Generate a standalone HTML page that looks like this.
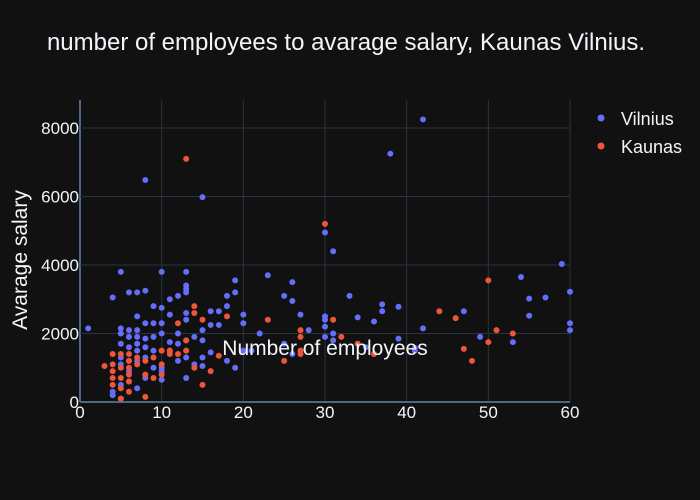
<!DOCTYPE html>
<html><head><meta charset="utf-8"><style>
body{margin:0;background:#111111;}
svg{display:block;font-family:"Liberation Sans",sans-serif;}
</style></head><body>
<svg id="chart" width="700" height="500">
<rect width="700" height="500" fill="#111111"/>
<text x="346" y="50" fill="#f2f5fa" font-size="24" text-anchor="middle">number of employees to avarage salary, Kaunas Vilnius.</text>
<g id="grid"></g>
<g id="points"></g>
<g id="axes"></g>
<text x="27" y="260" fill="#f2f5fa" font-size="21" text-anchor="middle" transform="rotate(-90 27 260)">Avarage salary</text>
<text x="325" y="355" fill="#f2f5fa" font-size="21" text-anchor="middle">Number of employees</text>
<g>
<g><circle cx="601" cy="118" r="3.5" fill="#636efa"/><text x="621" y="125" fill="#f2f5fa" font-size="18">Vilnius</text></g>
<g><circle cx="601" cy="146" r="3.5" fill="#ef553b"/><text x="621" y="153" fill="#f2f5fa" font-size="18">Kaunas</text></g>
</g>
</svg>
<script>
const xTicks=[0,10,20,30,40,50,60];
const yTicks=[0,2000,4000,6000,8000];
const vilnius=[[42,8250],[38,7250],[8,6480],[15,5980],[30,4950],[31,4400],[59,4030],[54,3650],[60,3220],[57,3050],[55,3020],[55,2520],[60,2300],[60,2100],[49,1900],[53,1750],[47,2650],[42,2150],[41,1580],[39,1850],[39,2780],[37,2650],[37,2850],[36,2350],[34,2470],[33,3100],[31,2000],[30,2500],[30,2400],[30,2200],[30,1900],[28,2100],[27,2550],[26,2950],[26,3500],[25,3100],[26,1400],[23,3700],[22,2000],[20,2550],[20,2300],[21,1500],[19,3550],[19,3200],[18,3100],[18,2800],[17,2650],[16,2650],[17,2250],[16,2250],[15,2100],[15,1800],[14,1900],[13,1800],[13,3800],[13,3400],[13,3300],[13,3200],[13,2600],[13,2400],[12,3100],[11,3000],[11,2550],[10,3800],[10,2750],[10,2300],[9,2800],[9,2300],[8,3250],[8,2300],[7,3200],[7,2500],[6,3200],[5,3800],[4,3050],[1,2150],[5,2150],[5,2000],[6,2100],[7,2100],[7,1900],[8,1850],[9,1900],[10,2000],[11,1750],[12,1700],[13,1300],[12,1200],[14,1100],[15,1050],[16,1450],[18,1200],[19,1000],[20,1500],[10,1000],[10,900],[9,1000],[8,1300],[8,700],[10,650],[7,400],[6,600],[5,1100],[5,500],[4,300],[4,200],[5,100],[6,1600],[6,1900],[7,1700],[7,1500],[8,1600],[9,1500],[7,1200],[6,900],[5,1300],[5,1700],[6,1200],[12,2000],[11,1500],[15,1300],[13,700],[41,1500],[25,1700],[31,1800],[35,1600]];
const kaunas=[[13,7100],[30,5200],[50,3550],[44,2650],[46,2450],[51,2100],[53,2000],[50,1750],[47,1550],[48,1200],[31,2400],[27,2100],[27,1900],[27,1500],[27,1400],[23,2400],[18,2500],[17,1350],[16,900],[15,2400],[15,500],[14,2800],[14,2600],[13,1800],[12,2300],[12,1400],[11,1500],[10,1500],[10,1100],[9,1300],[8,1200],[8,150],[7,1100],[6,1400],[6,1200],[6,1000],[6,800],[6,600],[6,300],[5,1000],[5,1400],[5,700],[5,400],[5,100],[4,1400],[4,1100],[4,900],[4,700],[4,500],[3,1050],[7,1300],[8,800],[9,700],[10,800],[11,1400],[13,1500],[14,1000],[32,1900],[34,1700],[36,1400],[25,1200]];
const X0=80,X1=570,Y0=402,Y1=100;
const xS=v=>X0+(v/60)*(X1-X0);
const yS=v=>Y0-v*0.03425;
const NS="http://www.w3.org/2000/svg";
const grid=document.getElementById('grid'),axes=document.getElementById('axes'),pts=document.getElementById('points');
function mk(t,a,p){const e=document.createElementNS(NS,t);for(const k in a)e.setAttribute(k,a[k]);p.appendChild(e);return e;}
xTicks.forEach(v=>{
  const l=mk('line',{x1:xS(v),x2:xS(v),y1:Y1,y2:Y0,stroke:v===0?'#506784':'#283442','stroke-width':v===0?2:1},grid);
  
  
  const t=mk('text',{x:xS(v),y:Y0+16,fill:'#f2f5fa','font-size':17,'text-anchor':'middle'},axes);
  t.textContent=v;
  
  
});
yTicks.forEach(v=>{
  const l=mk('line',{x1:X0,x2:X1,y1:yS(v),y2:yS(v),stroke:v===0?'#506784':'#283442','stroke-width':v===0?2:1},grid);
  
  
  const t=mk('text',{x:X0-1,y:yS(v)+6,fill:'#f2f5fa','font-size':17,'text-anchor':'end'},axes);
  t.textContent=v;
  
  
});
function draw(arr,col,name){arr.forEach(d=>{
  const c=mk('circle',{cx:xS(d[0]),cy:yS(d[1]),r:3,fill:col},pts);
  
  
});}
draw(vilnius,'#636efa','vilnius-point');
draw(kaunas,'#ef553b','kaunas-point');
</script>
</body></html>
